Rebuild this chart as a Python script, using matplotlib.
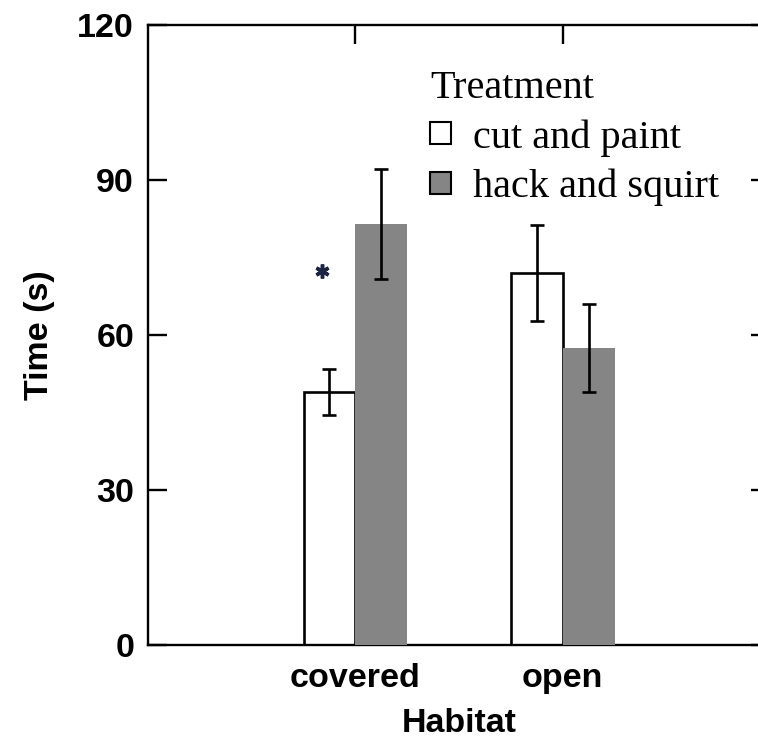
import matplotlib
matplotlib.use('Agg')
import matplotlib.pyplot as plt
import numpy as np

# data
habitat = ['covered', 'open']
cut_paint = [49.0, 72.0]
cut_paint_err = [4.5, 9.3]
hack_squirt = [81.5, 57.5]
hack_squirt_err = [10.6, 8.5]
y_ticks = [0, 30, 60, 90, 120]
star_x = -0.16   # significance mark over covered
star_y = 72.4

bold_font = {'family': 'Liberation Sans', 'weight': 'bold', 'size': 24.5}
grey = '#858585'

fig = plt.figure(figsize=(7.58, 7.40), dpi=100)
ax = fig.add_axes([148/758, 1 - 645/740, (770 - 148)/758, (645 - 25)/740])

x = np.arange(len(habitat))
w = 0.25
ekw = dict(elinewidth=1.9, capthick=1.9, ecolor='black', zorder=4)
ax.bar(x - w/2, cut_paint, w, color='white', edgecolor='black', linewidth=1.9,
       yerr=cut_paint_err, capsize=5, error_kw=ekw, label='cut and paint', zorder=2)
ax.bar(x + w/2, hack_squirt, w, color=grey, edgecolor='none',
       yerr=hack_squirt_err, capsize=5, error_kw=ekw, label='hack and squirt', zorder=3)

ax.plot([star_x], [star_y], marker=(6, 2, 0), markersize=10, mew=2.5,
        color='#1c2444', linestyle='none', zorder=5)

ax.set_xlim(-1, 2)
ax.set_ylim(0, 120)
ax.set_xticks(x)
ax.set_xticklabels(habitat, fontdict=bold_font)
ax.set_yticks(y_ticks)
ax.set_yticklabels([str(v) for v in y_ticks], fontdict=bold_font)
ax.tick_params(axis='y', direction='in', length=14, width=1.7, right=True, pad=10)
ax.tick_params(axis='x', direction='in', length=14, width=1.7, top=True, pad=13)
for s in ax.spines.values():
    s.set_linewidth(1.7)

ax.set_ylabel('Time (s)', fontdict=bold_font)
ax.yaxis.set_label_coords(-0.15, 0.5)
ax.set_xlabel('Habitat', fontdict=bold_font, labelpad=10)

leg = ax.legend(title='Treatment', loc='upper left', alignment='left',
                bbox_to_anchor=(430/758, 1 - 70/740), bbox_transform=fig.transFigure,
                frameon=False, borderpad=0, borderaxespad=0,
                handlelength=0.52, handleheight=0.48, handletextpad=0.55,
                labelspacing=0.3, prop={'family': 'Liberation Serif', 'size': 29},
                title_fontproperties={'family': 'Liberation Serif', 'size': 29})
for p in leg.get_patches():
    p.set_edgecolor('black')
    p.set_linewidth(1.5)

fig.savefig('out.png', dpi=100)
